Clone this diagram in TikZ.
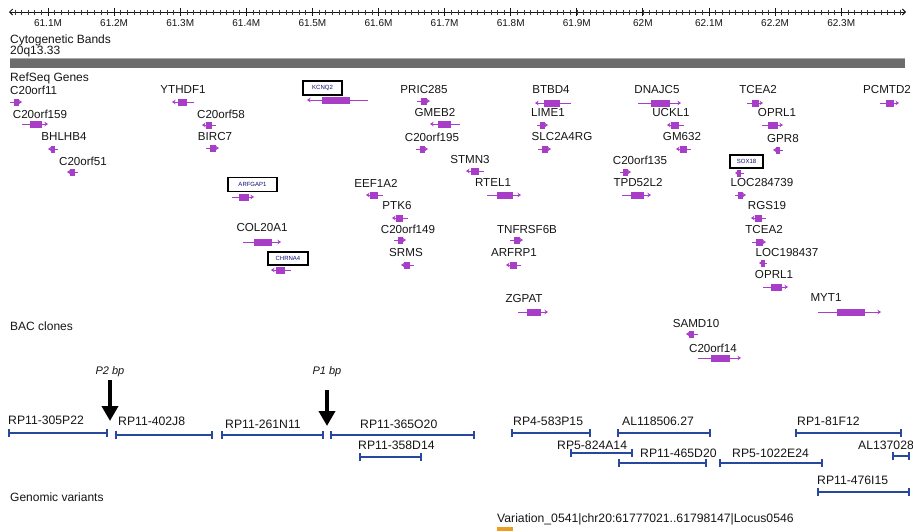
\documentclass[tikz,border=0pt]{standalone}
\usepackage{fontspec}
\setmainfont{Liberation Sans}
\usetikzlibrary{arrows.meta}
\definecolor{genepurple}{RGB}{168,62,200}
\definecolor{bacblue}{RGB}{40,72,160}
\definecolor{bandgrey}{RGB}{108,108,108}
\definecolor{labelgrey}{RGB}{22,22,22}
\definecolor{varorange}{RGB}{232,160,32}
% gene glyph: tail x, arrow x, y
\newcommand{\genemark}[3]{%
  \fill[genepurple] ({#1+0.3*(#2-#1)},#3-3.5) rectangle ({#1+0.75*(#2-#1)},#3+3.5);
  \draw[glyph] (#1,#3) -- (#2,#3);}
\begin{document}
\begin{tikzpicture}[x=1pt,y=-1pt,
  gene/.style={text=labelgrey,inner sep=0pt,font=\fontsize{11.6}{12}\selectfont},
  track/.style={text=labelgrey,inner sep=0pt,anchor=west,font=\fontsize{12}{13}\selectfont},
  scalelab/.style={text=labelgrey,inner sep=0pt,font=\fontsize{10}{11}\selectfont},
  boxlab/.style={draw=black,line width=1.4pt,inner sep=0pt,minimum height=14pt,
    text=labelgrey!60!blue,font=\fontsize{6}{6}\selectfont},
  glyph/.style={draw=genepurple,line width=1pt,-{Stealth[length=3.5pt,width=4.5pt]}},
  baclab/.style={text=labelgrey,inner sep=0pt,anchor=west,font=\fontsize{12.2}{13}\selectfont},
  bac/.style={draw=bacblue,line width=1.6pt,{Bar[width=8pt]}-{Bar[width=8pt]}},
  bparrow/.style={line width=4pt,-{Triangle[length=15pt,width=16pt]},shorten <=3pt}]
\useasboundingbox (0,0) rectangle (913,531);
\fill[white] (0,0) rectangle (913,531);

% scale
\draw[labelgrey,line width=0.9pt,{Straight Barb[length=3pt]}-{Straight Barb[length=3pt]}] (9,12) -- (906,12);
\foreach \i in {0,...,134}
  \draw[labelgrey!85,line width=0.7pt] (15+6.61*\i,9.5) -- (15+6.61*\i,14.5);
\foreach \m [count=\k from 0] in {61.1M,61.2M,61.3M,61.4M,61.5M,61.6M,61.7M,61.8M,61.9M,62M,62.1M,62.2M,62.3M} {
  \draw[labelgrey,line width=1pt] (48+66.1*\k,8) -- (48+66.1*\k,16);
  \node[scalelab] (tick\k) at (48+66.1*\k,23) {\m};
}

% cytogenetic bands
\node[track] (cyto) at (10,40) {Cytogenetic Bands};
\node[track] (band) at (10,52) {20q13.33};
\fill[bandgrey] (10,58) rectangle (905,68);
\draw[bandgrey!60,line width=0.6pt] (10,58) -- (905,58);

% refseq genes
\node[track] (refseq) at (10,78) {RefSeq Genes};
\node[gene,anchor=west] (c20orf11) at (10,90) {C20orf11}; \genemark{10}{22}{102}
\node[gene] (ythdf1) at (183,90) {YTHDF1}; \genemark{194}{172}{102}
\node[boxlab,minimum width=39pt] (kcnq2) at (322.5,88) {KCNQ2}; \genemark{368}{307}{100}
\node[gene] (pric285) at (424,90) {PRIC285}; \genemark{417}{430}{101}
\node[gene] (btbd4) at (551,90) {BTBD4}; \genemark{571}{535}{103}
\node[gene] (dnajc5) at (657,90) {DNAJC5}; \genemark{638}{681}{103}
\node[gene] (tcea2) at (758,90) {TCEA2}; \genemark{747}{763}{103}
\node[gene] (pcmtd2) at (887,90) {PCMTD2}; \genemark{880}{899}{103}
\node[gene] (c20orf159) at (40,114) {C20orf159}; \genemark{22}{48}{124}
\node[gene] (c20orf58) at (221,114) {C20orf58}; \genemark{216}{202}{125}
\node[gene] (gmeb2) at (435,113) {GMEB2}; \genemark{460}{430}{124}
\node[gene] (lime1) at (548,113) {LIME1}; \genemark{537}{548}{125}
\node[gene] (uckl1) at (671,113) {UCKL1}; \genemark{684}{667}{125}
\node[gene] (oprl1) at (777,113) {OPRL1}; \genemark{762}{783}{125}
\node[gene] (bhlhb4) at (64,137) {BHLHB4}; \genemark{58}{48}{149}
\node[gene] (birc7) at (215,137) {BIRC7}; \genemark{206}{219}{148}
\node[gene] (c20orf195) at (432,137) {C20orf195}; \genemark{416}{428}{149}
\node[gene] (slc2a4rg) at (562,137) {SLC2A4RG}; \genemark{538}{551}{149}
\node[gene] (gm632) at (682,137) {GM632}; \genemark{691}{676}{149}
\node[gene] (gpr8) at (783,139) {GPR8}; \genemark{783}{773}{150}
\node[gene] (c20orf51) at (83,161) {C20orf51}; \genemark{78}{67}{172}
\node[gene] (stmn3) at (470,160) {STMN3}; \genemark{484}{466}{171}
\node[gene] (c20orf135) at (640,160) {C20orf135}; \genemark{620}{631}{172}
\node[boxlab,minimum width=33pt,minimum height=13pt] (sox18) at (746.5,161.5) {SOX18}; \genemark{744}{735}{173}
\node[boxlab,minimum width=49pt] (arfgap1) at (252.5,184.5) {ARFGAP1}; \genemark{232}{254}{197}
\node[gene] (eef1a2) at (376,183) {EEF1A2}; \genemark{383}{366}{195}
\node[gene] (rtel1) at (493,183) {RTEL1}; \genemark{487}{521}{195}
\node[gene] (tpd52l2) at (638,183) {TPD52L2}; \genemark{622}{651}{195}
\node[gene] (loc284739) at (762,183) {LOC284739}; \genemark{735}{746}{195}
\node[gene] (ptk6) at (397,206) {PTK6}; \genemark{408}{392}{218}
\node[gene] (rgs19) at (767,206) {RGS19}; \genemark{766}{751}{218}
\node[gene] (col20a1) at (262,228) {COL20A1}; \genemark{243}{281}{242}
\node[gene] (c20orf149) at (408,229) {C20orf149}; \genemark{394}{406}{240}
\node[gene] (tnfrsf6b) at (527,229) {TNFRSF6B}; \genemark{510}{523}{240}
\node[gene] (tcea2b) at (764,229) {TCEA2}; \genemark{752}{766}{242}
\node[boxlab,minimum width=40pt,minimum height=13pt] (chrna4) at (288,258.5) {CHRNA4}; \genemark{291}{271}{270}
\node[gene] (srms) at (406,253) {SRMS}; \genemark{414}{401}{265}
\node[gene] (arfrp1) at (514,253) {ARFRP1}; \genemark{521}{506}{265}
\node[gene] (loc198437) at (787,253) {LOC198437}; \genemark{767}{759}{263}
\node[gene] (oprl1b) at (774,274) {OPRL1}; \genemark{763}{788}{287}
\node[gene] (zgpat) at (524,298) {ZGPAT}; \genemark{518}{548}{312}
\node[gene] (myt1) at (826,298) {MYT1}; \genemark{818}{881}{312}
\node[gene] (samd10) at (696,323) {SAMD10}; \genemark{698}{686}{334}
\node[gene] (c20orf14) at (713,348) {C20orf14}; \genemark{698}{741}{358}

% bac clones
\node[track] (bactrack) at (10,326) {BAC clones};
\node[baclab] (rp305) at (8,420) {RP11-305P22};
\node[baclab] (rp402) at (118,421) {RP11-402J8};
\node[baclab] (rp261) at (225,424) {RP11-261N11};
\node[baclab] (rp365) at (360,424) {RP11-365O20};
\node[baclab] (rp358) at (358,445) {RP11-358D14};
\node[baclab] (rp583) at (513,421) {RP4-583P15};
\node[baclab] (al118) at (622,421) {AL118506.27};
\node[baclab] (rp824) at (557,445) {RP5-824A14};
\node[baclab] (rp465) at (640,453) {RP11-465D20};
\node[baclab] (rp1022) at (732,453) {RP5-1022E24};
\node[baclab] (rp81) at (797,421) {RP1-81F12};
\node[baclab] (al137) at (858,445) {AL137028};
\node[baclab] (rp476) at (817,480) {RP11-476I15};
\draw[bac] (8,433) -- (108,433);
\draw[bac] (115,435) -- (213,435);
\draw[bac] (221,435) -- (324,435);
\draw[bac] (330,435) -- (475,435);
\draw[bac] (359,457) -- (422,457);
\draw[bac] (511,433) -- (591,433);
\draw[bac] (617,433) -- (711,433);
\draw[bac] (570,453) -- (633,453);
\draw[bac] (618,463) -- (707,463);
\draw[bac] (719,463) -- (823,463);
\draw[bac] (795,433) -- (902,433);
\draw[bac] (892,456) -- (910,456);
\draw[bac] (817,492) -- (910,492);

% breakpoints
\node[gene,font=\fontsize{11}{12}\selectfont\itshape] (p2lab) at (110,372) {P2 bp};
\node[gene,font=\fontsize{11}{12}\selectfont\itshape] (p1lab) at (327,372) {P1 bp};
\coordinate (p2tip) at (110,421);
\coordinate (p1tip) at (327,426);
\draw[bparrow] (p2lab.south) -- (p2tip);
\draw[bparrow] (p1lab.south) ++(0,10) -- (p1tip);

% genomic variants
\node[track] (variants) at (10,497) {Genomic variants};
\node[gene,anchor=west,font=\fontsize{12.2}{13}\selectfont] (var0541) at (497,519) {Variation\_0541\textbar chr20:61777021..61798147\textbar Locus0546};
\fill[varorange] (497,527) rectangle (513,531);
\end{tikzpicture}
\end{document}
